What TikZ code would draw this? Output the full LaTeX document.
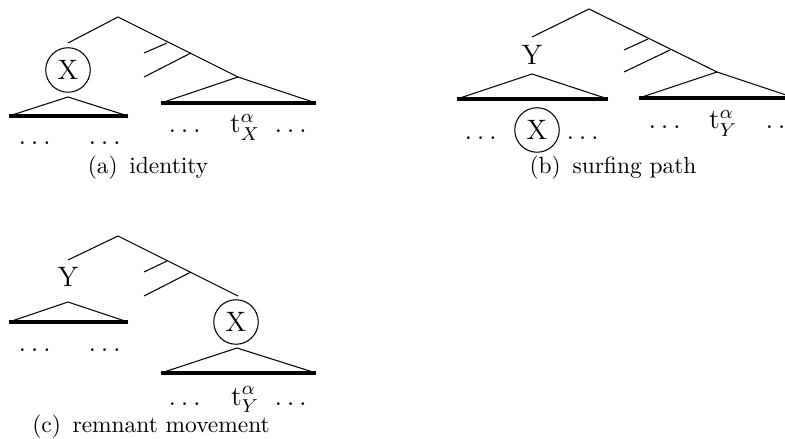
\documentclass[tikz,border=0pt]{standalone}
\usepackage{amsmath}
\usepackage{xcolor}
\usepackage{tikz}
\usetikzlibrary{positioning}

\begin{document}
\begin{tikzpicture}[
        x=0.427pt, y=-0.427pt,
        branch/.style={draw=black, line width=0.45pt},
        base/.style={draw=black, line width=1.35pt},
        lbl/.style={font=\large, inner sep=0pt, anchor=base},
        cat/.style={font=\large, inner sep=0pt},
        moved/.style={circle, draw=black, line width=0.45pt, font=\large,
            minimum size=19pt, inner sep=0pt},
        subcap/.style={font=\normalsize, inner sep=0pt}
    ]
    \useasboundingbox (0,0) rectangle (785,439);

    % (a) identity
    \coordinate (rta) at (118,17);
    \coordinate (lfa) at (68,43);
    \coordinate (apa) at (238,77);
    \coordinate (k1a) at (167,43);
    \coordinate (k2a) at (191,53);
    \coordinate (e1a) at (144,53);
    \coordinate (e2a) at (144,77);
    \node[moved] (xa) at (68,70) {X};
    \coordinate (tla) at (68,97);
    \coordinate (bla) at (9,116);
    \coordinate (bra) at (128,116);
    \coordinate (cla) at (161,103);
    \coordinate (cra) at (316,103);
    \draw[branch] (lfa) -- (rta) -- (apa);
    \draw[branch] (k1a) -- (e1a);
    \draw[branch] (k2a) -- (e2a);
    \draw[branch] (bla) -- (tla) -- (bra);
    \draw[base] (bla) -- (bra);
    \draw[branch] (cla) -- (apa) -- (cra);
    \draw[base] (cla) -- (cra);
    \node[lbl] (d1a) at (37,145) {$\dots$};
    \node[lbl] (d2a) at (107,145) {$\dots$};
    \node[lbl] (d3a) at (187,133) {$\dots$};
    \node[lbl] (ta) at (245,133) {t$^{\alpha}_{X}$};
    \node[lbl] (d4a) at (293,133) {$\dots$};
    \node[subcap] (capa) at (148,168) {(a)\enspace identity};

    % (b) surfing path
    \coordinate (rtb) at (589,9);
    \coordinate (lfb) at (532,37);
    \coordinate (apb) at (717,72);
    \coordinate (k1b) at (648,39);
    \coordinate (k2b) at (670,50);
    \coordinate (e1b) at (624,50);
    \coordinate (e2b) at (624,72);
    \node[cat] (yb) at (532,55) {Y};
    \coordinate (tlb) at (532,74);
    \coordinate (blb) at (457,99);
    \coordinate (brb) at (608,99);
    \coordinate (clb) at (639,98);
    \coordinate (crb) at (795,98);
    \draw[branch] (lfb) -- (rtb) -- (apb);
    \draw[branch] (k1b) -- (e1b);
    \draw[branch] (k2b) -- (e2b);
    \draw[branch] (blb) -- (tlb) -- (brb);
    \draw[base] (blb) -- (brb);
    \draw[branch] (clb) -- (apb) -- (crb);
    \draw[base] (clb) -- (crb);
    \node[lbl] (d1b) at (483,140) {$\dots$};
    \node[moved] (xb) at (537,130) {X};
    \node[lbl] (d2b) at (585,140) {$\dots$};
    \node[lbl] (d3b) at (667,129) {$\dots$};
    \node[lbl] (tb) at (723,129) {t$^{\alpha}_{Y}$};
    \node[lbl] (d4b) at (784,129) {$\dots$};
    \node[subcap] (capb) at (613,168) {(b)\enspace surfing path};

    % (c) remnant movement
    \coordinate (rtc) at (118,236);
    \coordinate (lfc) at (68,260);
    \coordinate (apc) at (238,296);
    \coordinate (k1c) at (167,261);
    \coordinate (k2c) at (191,272);
    \coordinate (e1c) at (144,272);
    \coordinate (e2c) at (144,296);
    \node[cat] (yc) at (68,277) {Y};
    \coordinate (tlc) at (68,302);
    \coordinate (blc) at (9,322);
    \coordinate (brc) at (128,322);
    \node[moved] (xc) at (236,322) {X};
    \coordinate (trc) at (237,348);
    \coordinate (clc) at (161,373);
    \coordinate (crc) at (316,373);
    \draw[branch] (lfc) -- (rtc) -- (apc);
    \draw[branch] (k1c) -- (e1c);
    \draw[branch] (k2c) -- (e2c);
    \draw[branch] (blc) -- (tlc) -- (brc);
    \draw[base] (blc) -- (brc);
    \draw[branch] (clc) -- (trc) -- (crc);
    \draw[base] (clc) -- (crc);
    \node[lbl] (d1c) at (37,352) {$\dots$};
    \node[lbl] (d2c) at (107,352) {$\dots$};
    \node[lbl] (d3c) at (187,405) {$\dots$};
    \node[lbl] (tc) at (245,405) {t$^{\alpha}_{Y}$};
    \node[lbl] (d4c) at (293,405) {$\dots$};
    \node[subcap] (capc) at (151,427) {(c)\enspace remnant movement};
\end{tikzpicture}
\end{document}
